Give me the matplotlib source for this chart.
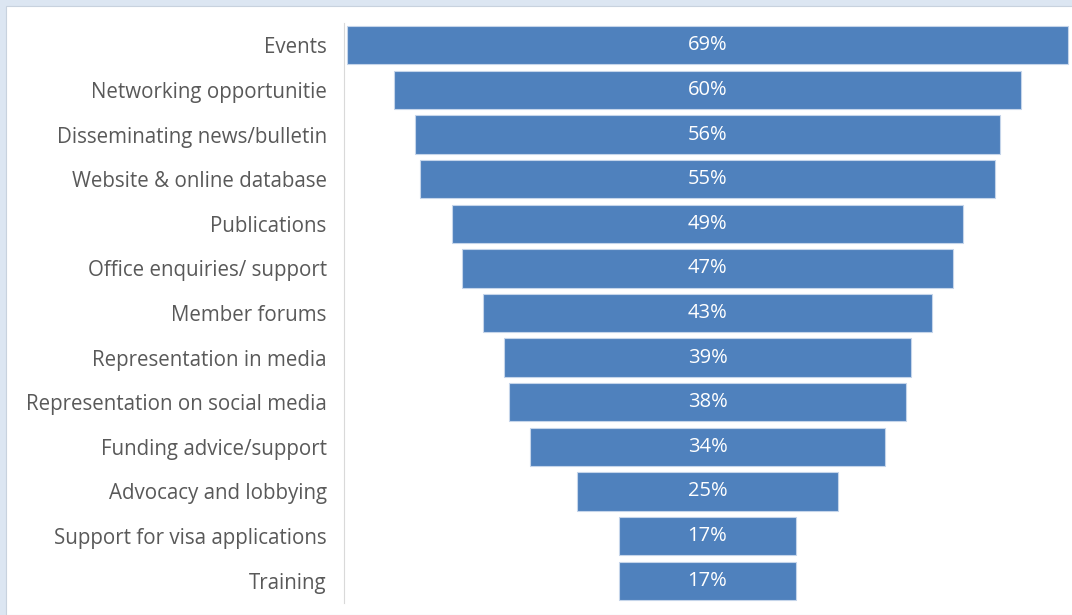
import matplotlib.pyplot as plt
from matplotlib.patches import Rectangle

# data
categories = ["Events", "Networking opportunitie", "Disseminating news/bulletin",
              "Website & online database", "Publications", "Office enquiries/ support",
              "Member forums", "Representation in media", "Representation on social media",
              "Funding advice/support", "Advocacy and lobbying",
              "Support for visa applications", "Training"]
values = [69, 60, 56, 55, 49, 47, 43, 39, 38, 34, 25, 17, 17]

bar_color = "#4F81BD"
text_grey = "#595959"

plt.rcParams['font.family'] = ['Open Sans', 'DejaVu Sans']

W, H = 1072, 615
fig = plt.figure(figsize=(W / 100, H / 100), dpi=100)
fig.patch.set_facecolor("#dce6f2")
# white panel inside light blue frame
fig.patches.append(Rectangle((6 / W, 0), 1, 1 - 6 / H, transform=fig.transFigure,
                             facecolor="white", edgecolor="#c8d2de", linewidth=0.8, zorder=-5))

ax = fig.add_axes([344 / W, 12 / H, 727 / W, 580 / H])
ax.set_facecolor("none")
ax.set_zorder(2)

ypos = list(range(len(categories)))
lefts = [-v / 2 for v in values]
ax.barh(ypos, values, left=lefts, height=0.86, color=bar_color,
        edgecolor="#c5d5ea", linewidth=0.8)

for y, v in zip(ypos, values):
    ax.text(0, y, f"{v}%", ha="center", va="center", color="white", fontsize=14.5)

ax.set_xlim(-34.8, 34.8)
ax.set_ylim(len(categories) - 0.5, -0.5)
ax.set_yticks(ypos)
ax.set_yticklabels(categories, fontsize=14.8, color=text_grey)
ax.tick_params(axis="y", length=0, pad=12.5)
ax.set_xticks([])
for s in ["top", "right", "bottom"]:
    ax.spines[s].set_visible(False)
ax.spines["left"].set_color("#d9d9d9")

fig.savefig("out.png", dpi=100)
